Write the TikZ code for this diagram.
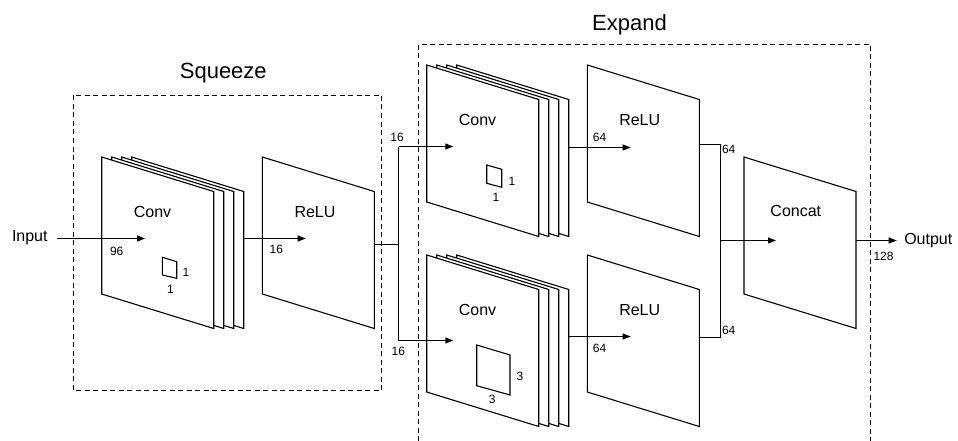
\documentclass[tikz,border=0pt]{standalone}
\usepackage{fontspec}
\setmainfont{Liberation Sans}
\usetikzlibrary{arrows.meta}
\newcommand\drawplane[2]{\filldraw[planebox] (#1,#2) -- ++(112,34.5) -- ++(0,137) -- ++(-112,-34.5) -- cycle;}
\begin{document}
\begin{tikzpicture}[x=1pt,y=-1pt,line join=miter,
  planebox/.style={draw=black,fill=white,line width=1.1pt},
  kernel/.style={draw=black,line width=1.1pt},
  wire/.style={draw=black,line width=1.1pt},
  arrowwire/.style={wire,-{Triangle[length=8pt,width=6pt]}},
  groupbox/.style={draw=black,line width=1pt,dash pattern=on 5pt off 3.5pt},
  title/.style={font=\fontsize{22}{26}\selectfont,inner sep=0pt,anchor=base},
  lbl/.style={font=\fontsize{16}{19}\selectfont,inner sep=0pt,anchor=base},
  num/.style={font=\fontsize{12}{14}\selectfont,inner sep=0pt,anchor=base}]
\useasboundingbox (0,0) rectangle (958,441);

% group boxes
\draw[groupbox] (73.5,95.5) rectangle (381.5,390.5);
\draw[groupbox] (418.5,441) -- (418.5,44.5) -- (870.5,44.5) -- (870.5,441);
\node[title] (sqtitle) at (223.3,79) {Squeeze};
\node[title] (extitle) at (629.5,30.7) {Expand};

% squeeze conv stack
\drawplane{131.7}{157}
\drawplane{121.7}{157}
\drawplane{111.7}{157}
\drawplane{101.7}{157}
% squeeze relu
\drawplane{262.3}{157}
% expand upper conv stack
\drawplane{456.7}{65}
\drawplane{446.7}{65}
\drawplane{436.7}{65}
\drawplane{426.7}{65}
% expand lower conv stack
\drawplane{456.7}{255}
\drawplane{446.7}{255}
\drawplane{436.7}{255}
\drawplane{426.7}{255}
% expand relus
\drawplane{587.3}{65}
\drawplane{587.3}{255}
% concat
\drawplane{744}{157}

% kernels
\draw[kernel] (162.3,257.3) -- (176.7,261.7) -- (176.7,278.3) -- (162.3,275) -- cycle;
\draw[kernel] (486.7,165) -- (501.7,169.3) -- (501.7,187.3) -- (486.7,183.3) -- cycle;
\draw[kernel] (476.7,345) -- (510,355) -- (510,395) -- (476.7,385.7) -- cycle;

% labels in planes
\node[lbl] (input) at (29.8,241.7) {Input};
\node[lbl] (sqconv) at (152.5,217.3) {Conv};
\node[lbl] (sqrelu) at (315,217.3) {ReLU};
\node[lbl] (upconv) at (477.5,125.3) {Conv};
\node[lbl] (loconv) at (477.5,315.3) {Conv};
\node[lbl] (uprelu) at (639.7,125.3) {ReLU};
\node[lbl] (lorelu) at (639.7,315.3) {ReLU};
\node[lbl] (concat) at (795.8,216.7) {Concat};
\node[lbl] (output) at (928.3,244) {Output};

% numbers
\node[num] (n96) at (116.7,255) {96};
\node[num] (n16a) at (276.3,253.3) {16};
\node[num] (n16b) at (397,142) {16};
\node[num] (n16c) at (398.3,355) {16};
\node[num] (n64a) at (599.5,141.7) {64};
\node[num] (n64b) at (599.5,352.7) {64};
\node[num] (n64c) at (728.7,153.7) {64};
\node[num] (n64d) at (728.7,334.5) {64};
\node[num] (n128) at (883.5,260.7) {128};
\node[num] (k1a) at (186,276.7) {1};
\node[num] (k1b) at (170.5,293.3) {1};
\node[num] (k1c) at (512,185) {1};
\node[num] (k1d) at (496,201.7) {1};
\node[num] (k3a) at (520,380) {3};
\node[num] (k3b) at (492.3,403.3) {3};

% connector points
\coordinate (inA) at (57,238.5);
\coordinate (sqConvIn) at (145,238.5);
\coordinate (sqConvOut) at (243.7,238.5);
\coordinate (sqReluIn) at (305.7,238.5);
\coordinate (sqReluOut) at (374.3,244.5);
\coordinate (split) at (398.5,244.5);
\coordinate (splitTop) at (398.5,146.5);
\coordinate (splitBot) at (398.5,340.5);
\coordinate (upConvIn) at (453.3,146.5);
\coordinate (loConvIn) at (453.3,340.5);
\coordinate (upConvOut) at (568.7,147.5);
\coordinate (upReluIn) at (630.7,147.5);
\coordinate (loConvOut) at (568.7,336.5);
\coordinate (loReluIn) at (630.7,336.5);
\coordinate (upReluOut) at (699.3,144.5);
\coordinate (mergeTop) at (720.5,144.5);
\coordinate (loReluOut) at (699.3,337.5);
\coordinate (mergeBot) at (720.5,337.5);
\coordinate (merge) at (720.5,240.5);
\coordinate (concatIn) at (776,240.5);
\coordinate (concatOut) at (856,240.5);
\coordinate (outA) at (896.7,240.5);

% connectors
\draw[arrowwire] (inA) -- (sqConvIn);
\draw[arrowwire] (sqConvOut) -- (sqReluIn);
\draw[wire] (sqReluOut) -- (split);
\draw[wire] (splitTop) -- (splitBot);
\draw[arrowwire] (splitTop) -- (upConvIn);
\draw[arrowwire] (splitBot) -- (loConvIn);
\draw[arrowwire] (upConvOut) -- (upReluIn);
\draw[arrowwire] (loConvOut) -- (loReluIn);
\draw[wire] (upReluOut) -- (mergeTop) -- (mergeBot) -- (loReluOut);
\draw[arrowwire] (merge) -- (concatIn);
\draw[arrowwire] (concatOut) -- (outA);
\end{tikzpicture}
\end{document}
